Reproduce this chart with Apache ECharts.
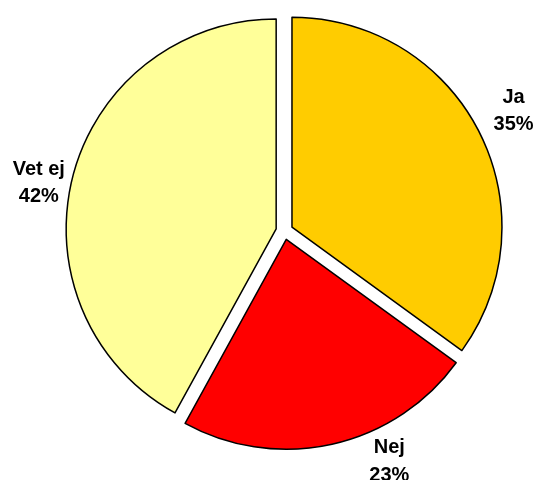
<!DOCTYPE html>
<html><head><meta charset="utf-8">
<script src="https://cdn.jsdelivr.net/npm/echarts@6/dist/echarts.min.js"></script>
<style>html,body{margin:0;padding:0;background:#fff}#c{width:536px;height:480px}</style>
</head><body><div id="c"></div>
<script>
var categories = ['Ja', 'Nej', 'Vet ej'];
var values = [35, 23, 42];
var colors = ['#FFCC00', '#FF0000', '#FFFF99'];
var labelPos = [[506, 115], [387.5, 453], [47, 185]];

var chart = echarts.init(document.getElementById('c'), null, {renderer: 'canvas'});
chart.setOption({
  animation: false,
  series: [{
    type: 'pie',
    center: [284.4, 231],
    radius: 210,
    startAngle: 90,
    clockwise: true,
    selectedMode: 'multiple',
    selectedOffset: 8.5,
    emphasis: {disabled: true},
    itemStyle: {borderColor: '#000', borderWidth: 1.5},
    label: {
      show: true,
      position: 'outside',
      alignTo: 'none',
      overflow: 'none',
      formatter: function (p) { return p.name + '\n' + p.value + '%'; },
      fontFamily: 'Liberation Sans, Arial, sans-serif',
      fontWeight: 'bold',
      fontSize: 20,
      lineHeight: 27.5,
      color: '#000'
    },
    labelLine: {show: false},
    labelLayout: function (p) {
      var pos = labelPos[p.dataIndex];
      var r = p.labelRect;
      var anchorX = p.align === 'right' ? r.x + r.width : (p.align === 'center' ? r.x + r.width / 2 : r.x);
      return {
        align: 'center',
        dx: pos[0] - anchorX,
        dy: pos[1] - (r.y + r.height / 2)
      };
    },
    data: categories.map(function (c, i) {
      return {name: c, value: values[i], selected: true, itemStyle: {color: colors[i]}};
    })
  }]
});
</script></body></html>
